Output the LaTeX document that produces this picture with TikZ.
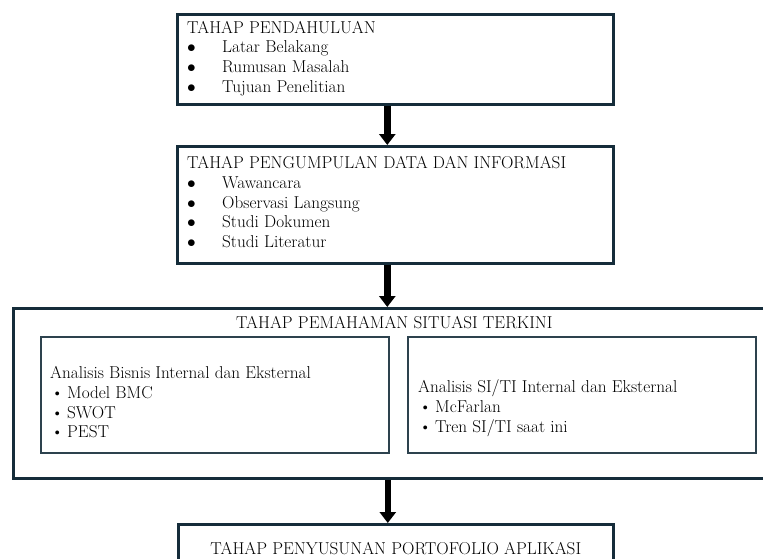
\documentclass[tikz,border=0pt]{standalone}
\usepackage{tikz}
\usetikzlibrary{arrows.meta}
\definecolor{garis}{RGB}{21,44,58}
\definecolor{garisdalam}{RGB}{45,66,78}
\newcommand{\butir}[1]{\makebox[35pt][l]{$\bullet$}#1}
\newcommand{\butirk}[1]{\makebox[17pt][l]{\hspace{1pt}\textbullet}#1}

\begin{document}
\begin{tikzpicture}[x=1pt,y=-1pt]
    \tikzstyle{tahap} = [draw=garis, line width=2.6pt, inner sep=0pt, anchor=north west]
    \tikzstyle{analisis} = [draw=garisdalam, line width=1.6pt, inner sep=0pt, anchor=north west]
    \tikzstyle{isi} = [inner sep=0pt, text=black, font=\fontsize{17.2}{19.8}\selectfont]
    \tikzstyle{panah} = [line width=6.5pt, -{Triangle[width=16pt,length=11pt]}]

    \useasboundingbox (0,0) rectangle (763,558);
    \clip (0,0) rectangle (763,558);

    % kotak tahap
    \node [tahap, minimum width=436pt, minimum height=90pt] (pendahuluan) at (176,13) {};
    \node [tahap, minimum width=436pt, minimum height=117pt] (pengumpulan) at (176,145) {};
    \node [tahap, minimum width=762pt, minimum height=170pt] (pemahaman) at (12,307) {};
    \node [analisis, minimum width=348pt, minimum height=116pt] (bisnis) at (40,336) {};
    \node [analisis, minimum width=348pt, minimum height=116pt] (siti) at (407,336) {};
    \node [tahap, minimum width=435pt, minimum height=60pt] (penyusunan) at (177,523) {};

    % isi kotak
    \node [isi, anchor=base west] (pendahuluan-isi) at ([shift={(11,20)}]pendahuluan.north west)
        {\begin{tabular}[t]{@{}l@{}}
            TAHAP PENDAHULUAN\\
            \butir{Latar Belakang}\\
            \butir{Rumusan Masalah}\\
            \butir{Tujuan Penelitian}
        \end{tabular}};
    \node [isi, anchor=base west] (pengumpulan-isi) at ([shift={(11,23.5)}]pengumpulan.north west)
        {\begin{tabular}[t]{@{}l@{}}
            TAHAP PENGUMPULAN DATA DAN INFORMASI\\
            \butir{Wawancara}\\
            \butir{Observasi Langsung}\\
            \butir{Studi Dokumen}\\
            \butir{Studi Literatur}
        \end{tabular}};
    \node [isi, anchor=base] (pemahaman-isi) at ([shift={(0,21.4)}]pemahaman.north)
        {TAHAP PEMAHAMAN SITUASI TERKINI};
    \node [isi, anchor=base west] (bisnis-isi) at ([shift={(10,42.4)}]bisnis.north west)
        {\begin{tabular}[t]{@{}l@{}}
            Analisis Bisnis Internal dan Eksternal\\
            \butirk{Model BMC}\\
            \butirk{SWOT}\\
            \butirk{PEST}
        \end{tabular}};
    \node [isi, anchor=base west] (siti-isi) at ([shift={(11,56.4)}]siti.north west)
        {\begin{tabular}[t]{@{}l@{}}
            Analisis SI/TI Internal dan Eksternal\\
            \butirk{McFarlan}\\
            \butirk{Tren SI/TI saat ini}
        \end{tabular}};
    \node [isi, anchor=base] (penyusunan-isi) at ([shift={(0,31.4)}]penyusunan.north)
        {TAHAP PENYUSUNAN PORTOFOLIO APLIKASI};

    % panah antar tahap
    \draw [panah] ([xshift=-8pt]pendahuluan.south) -- ([xshift=-8pt]pengumpulan.north);
    \draw [panah] ([xshift=-8pt]pengumpulan.south) -- ([xshift=-8pt]pengumpulan.south |- pemahaman.north);
    \draw [panah] ([xshift=-8pt]penyusunan.north |- pemahaman.south) -- ([xshift=-8pt]penyusunan.north);
\end{tikzpicture}
\end{document}
